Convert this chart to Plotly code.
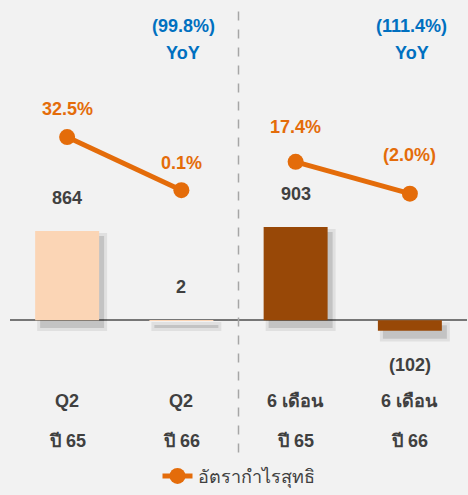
import plotly.graph_objects as go

categories = ["c1", "c2", "c3", "c4"]
row1_labels = ["Q2", "Q2", "6 เดือน", "6 เดือน"]
row2_labels = ["ปี 65", "ปี 66", "ปี 65", "ปี 66"]
profit = [864, 2, 903, -102]
profit_text = ["864", "2", "903", "(102)"]
margin_pct = [32.5, 0.1, 17.4, -2.0]
margin_text = ["32.5%", "0.1%", "17.4%", "(2.0%)"]
yoy_text = ["(99.8%)", "(111.4%)"]
yoy_cats = ["c2", "c4"]
legend_name = "อัตรากำไรสุทธิ"

bar_colors = ["#FBD5B5", "#FBD5B5", "#984807", "#984807"]
orange = "#E46C0A"
dark = "#404040"
blue = "#0070C0"
FONT = "Liberation Sans, Arial, sans-serif"
H = 495.0
BAR_PX = 0.105      # px per unit of profit
PCT_PX = 1.667      # px per % point
ZERO_BAR = 325.5
ZERO_PCT = 193.5
Y_RANGE = [-(H - ZERO_BAR) / BAR_PX, ZERO_BAR / BAR_PX]
Y2_RANGE = [-(H - ZERO_PCT) / PCT_PX, ZERO_PCT / PCT_PX]
UNIT_PER_PX = 1.0 / BAR_PX
BAR_W = 0.56
X_UNIT_PER_PX = 4.0 / 457.0


def py(p):
    return (H - p) / H


fig = go.Figure()
# soft drop shadow under the bars (derived from the same values)
for grow, alpha in [(3, 0.07), (0, 0.13)]:
    sh_base = [min(v, 0) - (8 + grow) * UNIT_PER_PX for v in profit]
    sh_top = [max(v, 0) - (5 - grow) * UNIT_PER_PX for v in profit]
    fig.add_trace(go.Bar(x=categories, y=[t - b for t, b in zip(sh_top, sh_base)], base=sh_base,
                         width=BAR_W + 2 * grow * X_UNIT_PER_PX,
                         offset=-BAR_W / 2 + (5 - grow) * X_UNIT_PER_PX,
                         marker=dict(color="rgba(0,0,0,%g)" % alpha, line=dict(width=0)),
                         showlegend=False, hoverinfo="skip", yaxis="y"))
fig.add_trace(go.Bar(x=categories, y=profit, marker=dict(color=bar_colors, line=dict(width=0)),
                     width=BAR_W, showlegend=False, yaxis="y"))
fig.add_trace(go.Scatter(x=categories[:2], y=margin_pct[:2], mode="lines+markers",
                         line=dict(color=orange, width=5), marker=dict(size=16, color=orange),
                         name=legend_name, legendgroup="m", yaxis="y2", showlegend=True))
fig.add_trace(go.Scatter(x=categories[2:], y=margin_pct[2:], mode="lines+markers",
                         line=dict(color=orange, width=5), marker=dict(size=16, color=orange),
                         name=legend_name, legendgroup="m", yaxis="y2", showlegend=False))

ann = []
for c, v, t in zip(categories, profit, profit_text):
    ann.append(dict(x=c, y=v, xref="x", yref="y", text="<b>%s</b>" % t, showarrow=False,
                    xanchor="center", yanchor="middle",
                    yshift=33 if v >= 0 else -34, font=dict(size=18, color=dark, family=FONT)))
mshift = [28, 27, 35, 39]
for c, v, t, s in zip(categories, margin_pct, margin_text, mshift):
    ann.append(dict(x=c, y=v, xref="x", yref="y2", text="<b>%s</b>" % t, showarrow=False,
                    xanchor="center", yanchor="middle",
                    yshift=s, font=dict(size=18, color=orange, family=FONT)))
for c, t in zip(yoy_cats, yoy_text):
    ann.append(dict(x=c, y=py(26), xref="x", yref="paper", text="<b>%s</b>" % t,
                    xanchor="center", yanchor="middle",
                    showarrow=False, font=dict(size=18, color=blue, family=FONT), xshift=2))
    ann.append(dict(x=c, y=py(54), xref="x", yref="paper", text="<b>YoY</b>",
                    xanchor="center", yanchor="middle",
                    showarrow=False, font=dict(size=18, color=blue, family=FONT), xshift=2))
for c, a, b in zip(categories, row1_labels, row2_labels):
    ann.append(dict(x=c, y=py(408), xref="x", yref="paper", text="<b>%s</b>" % a,
                    xanchor="center", yanchor="middle",
                    showarrow=False, font=dict(size=18, color=dark, family=FONT)))
    ann.append(dict(x=c, y=py(448), xref="x", yref="paper", text="<b>%s</b>" % b,
                    xanchor="center", yanchor="middle",
                    showarrow=False, font=dict(size=18, color=dark, family=FONT)))

fig.update_layout(
    width=468, height=H,
    margin=dict(l=10, r=1, t=0, b=0),
    barmode="overlay",
    paper_bgcolor="#F2F2F2", plot_bgcolor="#F2F2F2",
    xaxis=dict(showticklabels=False, showgrid=False, zeroline=False, showline=False,
               range=[-0.5, 3.5], fixedrange=True),
    yaxis=dict(range=Y_RANGE, showticklabels=False, showgrid=False, zeroline=True,
               zerolinecolor="#767676", zerolinewidth=1.5, showline=False),
    yaxis2=dict(range=Y2_RANGE, overlaying="y", showticklabels=False, showgrid=False,
                zeroline=False, showline=False),
    annotations=ann,
    shapes=[dict(type="line", xref="x", yref="paper", x0=1.5, x1=1.5,
                 y0=py(460), y1=py(7),
                 line=dict(color="#A6A6A6", width=1.5, dash="dash"))],
    legend=dict(orientation="h", x=0.5, xanchor="center", y=py(484), yanchor="middle",
                font=dict(size=18, color=dark, family=FONT), bgcolor="rgba(0,0,0,0)"),
    showlegend=True,
    font=dict(family=FONT),
)
fig.write_html(
    "out.html", config={"displayModeBar": False},
    post_script=("var s=document.documentElement.style, b=document.body.style;"
                 "s.margin='0';s.padding='0';s.background='#F2F2F2';"
                 "b.margin='0';b.padding='0';b.background='#F2F2F2';"))
